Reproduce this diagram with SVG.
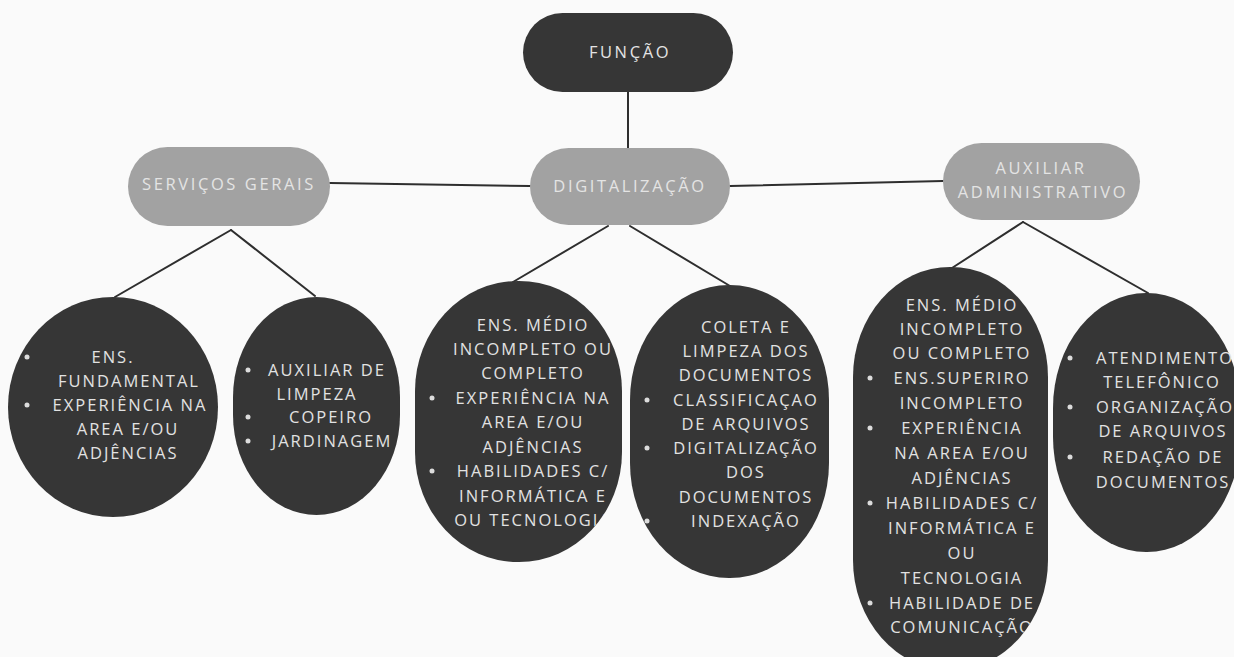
<svg xmlns="http://www.w3.org/2000/svg" width="1234" height="657" viewBox="0 0 1234 657">
<style>
.bg{fill:#fafafa}
.dark{fill:#363636}
.mid{fill:#a2a2a2}
.conn{stroke:#2e2e2e;stroke-width:2;fill:none;stroke-linecap:round}
text{font-family:"Open Sans","DejaVu Sans",sans-serif;text-anchor:middle}
.t{font-size:16.5px;letter-spacing:2px;fill:#e2e2e2}
.tm{font-size:16.5px;letter-spacing:2.6px;fill:#e4e4e4}
.bul{fill:#dcdcdc}
</style>
<defs>
<clipPath id="c3"><rect x="415" y="281" width="207" height="281" rx="103" ry="110"/></clipPath>
<clipPath id="c5"><rect x="853" y="267" width="195" height="403" rx="97" ry="110"/></clipPath>
</defs>
<rect class="bg" x="0" y="0" width="1234" height="657"/>

<g id="connectors">
<line class="conn" x1="628" y1="92" x2="628" y2="150"/>
<line class="conn" x1="330" y1="183" x2="530" y2="186"/>
<line class="conn" x1="730" y1="186" x2="943" y2="181"/>
<line class="conn" x1="231" y1="230" x2="115" y2="297"/>
<line class="conn" x1="231" y1="230" x2="315" y2="296"/>
<line class="conn" x1="608" y1="226" x2="513" y2="282"/>
<line class="conn" x1="630" y1="226" x2="730" y2="286"/>
<line class="conn" x1="1023" y1="222" x2="952" y2="268"/>
<line class="conn" x1="1023" y1="222" x2="1148" y2="293"/>
</g>

<g id="funcao">
<rect class="dark" x="523" y="13" width="210" height="79" rx="39.5"/>
<text class="tm" x="630" y="58">FUNÇÃO</text>
</g>

<g id="servicos-gerais">
<rect class="mid" x="128" y="147" width="202" height="79" rx="39.5"/>
<text class="tm" x="229" y="190">SERVIÇOS GERAIS</text>
</g>

<g id="digitalizacao">
<rect class="mid" x="530" y="148" width="200" height="77" rx="38.5"/>
<text class="tm" x="630" y="192">DIGITALIZAÇÃO</text>
</g>

<g id="auxiliar-administrativo">
<rect class="mid" x="943" y="143" width="197" height="77" rx="38.5"/>
<text class="tm" x="1041" y="174">AUXILIAR</text>
<text class="tm" x="1043" y="198">ADMINISTRATIVO</text>
</g>

<g id="sg-requisitos">
<ellipse class="dark" cx="113" cy="407" rx="105" ry="110"/>
<circle class="bul" cx="27" cy="357" r="2.5"/>
<circle class="bul" cx="27" cy="405" r="2.5"/>
<text class="t" x="113" y="363">ENS.</text>
<text class="t" x="129" y="387">FUNDAMENTAL</text>
<text class="t" x="130" y="411">EXPERIÊNCIA NA</text>
<text class="t" x="128" y="435">AREA E/OU</text>
<text class="t" x="128" y="459">ADJÊNCIAS</text>
</g>

<g id="sg-funcoes">
<rect class="dark" x="233" y="297" width="167" height="218" rx="83.5" ry="100"/>
<circle class="bul" cx="248" cy="370" r="2.5"/>
<circle class="bul" cx="248" cy="417" r="2.5"/>
<circle class="bul" cx="248" cy="441" r="2.5"/>
<text class="t" x="327" y="376">AUXILIAR DE</text>
<text class="t" x="317" y="400">LIMPEZA</text>
<text class="t" x="331" y="423">COPEIRO</text>
<text class="t" x="332" y="447">JARDINAGEM</text>
</g>

<g id="dig-requisitos">
<rect class="dark" x="415" y="281" width="207" height="281" rx="103" ry="110"/>
<circle class="bul" cx="432" cy="398" r="2.5"/>
<circle class="bul" cx="432" cy="471" r="2.5"/>
<g clip-path="url(#c3)">
<text class="t" x="533" y="331">ENS. MÉDIO</text>
<text class="t" x="533" y="355">INCOMPLETO OU</text>
<text class="t" x="533" y="379">COMPLETO</text>
<text class="t" x="533" y="404">EXPERIÊNCIA NA</text>
<text class="t" x="533" y="428">AREA E/OU</text>
<text class="t" x="533" y="453">ADJÊNCIAS</text>
<text class="t" x="533" y="477">HABILIDADES  C/</text>
<text class="t" x="533" y="502">INFORMÁTICA E</text>
<text class="t" x="533" y="526">OU TECNOLOGIA</text>
</g>
</g>

<g id="dig-funcoes">
<rect class="dark" x="630" y="285" width="199" height="293" rx="99" ry="115"/>
<circle class="bul" cx="647" cy="400" r="2.5"/>
<circle class="bul" cx="647" cy="448" r="2.5"/>
<circle class="bul" cx="647" cy="521" r="2.5"/>
<text class="t" x="746" y="333">COLETA E</text>
<text class="t" x="746" y="357">LIMPEZA DOS</text>
<text class="t" x="746" y="381">DOCUMENTOS</text>
<text class="t" x="746" y="406">CLASSIFICAÇAO</text>
<text class="t" x="746" y="430">DE ARQUIVOS</text>
<text class="t" x="746" y="454">DIGITALIZAÇÃO</text>
<text class="t" x="746" y="478">DOS</text>
<text class="t" x="746" y="503">DOCUMENTOS</text>
<text class="t" x="746" y="527">INDEXAÇÃO</text>
</g>

<g id="aux-requisitos">
<rect class="dark" x="853" y="267" width="195" height="403" rx="97" ry="110"/>
<circle class="bul" cx="870" cy="378" r="2.5"/>
<circle class="bul" cx="870" cy="428" r="2.5"/>
<circle class="bul" cx="870" cy="503" r="2.5"/>
<circle class="bul" cx="870" cy="603" r="2.5"/>
<g clip-path="url(#c5)">
<text class="t" x="962" y="311">ENS. MÉDIO</text>
<text class="t" x="962" y="335">INCOMPLETO</text>
<text class="t" x="962" y="359">OU COMPLETO</text>
<text class="t" x="962" y="384">ENS.SUPERIRO</text>
<text class="t" x="962" y="409">INCOMPLETO</text>
<text class="t" x="962" y="434">EXPERIÊNCIA</text>
<text class="t" x="962" y="459">NA AREA E/OU</text>
<text class="t" x="962" y="484">ADJÊNCIAS</text>
<text class="t" x="962" y="509">HABILIDADES C/</text>
<text class="t" x="962" y="534">INFORMÁTICA E</text>
<text class="t" x="962" y="559">OU</text>
<text class="t" x="962" y="584">TECNOLOGIA</text>
<text class="t" x="962" y="609">HABILIDADE DE</text>
<text class="t" x="962" y="633">COMUNICAÇÃO</text>
</g>
</g>

<g id="aux-funcoes">
<rect class="dark" x="1053" y="293" width="187" height="259" rx="93" ry="115"/>
<circle class="bul" cx="1070" cy="358" r="2.5"/>
<circle class="bul" cx="1070" cy="407" r="2.5"/>
<circle class="bul" cx="1070" cy="457" r="2.5"/>
<text class="t" x="1165" y="364">ATENDIMENTO</text>
<text class="t" x="1162" y="388">TELEFÔNICO</text>
<text class="t" x="1165" y="413">ORGANIZAÇÃO</text>
<text class="t" x="1163" y="437">DE ARQUIVOS</text>
<text class="t" x="1163" y="463">REDAÇÃO DE</text>
<text class="t" x="1163" y="488">DOCUMENTOS</text>
</g>
</svg>
